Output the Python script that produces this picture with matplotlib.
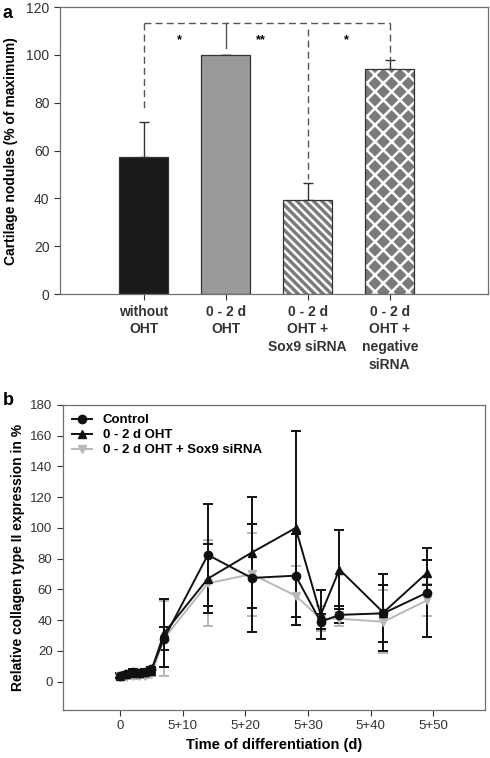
import numpy as np
import matplotlib.pyplot as plt
from matplotlib.lines import Line2D

plt.rcParams['font.family'] = ['Liberation Sans', 'DejaVu Sans']
plt.rcParams['hatch.linewidth'] = 1.8

# panel a data
groups = ['without\nOHT', '0 - 2 d\nOHT', '0 - 2 d\nOHT +\nSox9 siRNA', '0 - 2 d\nOHT +\nnegative\nsiRNA']
nodules = [57.3, 100.0, 39.5, 94.0]
nodules_err = [14.7, 0.0, 7.0, 4.0]

# panel b data
days = [0, 1, 2, 3, 4, 5, 7, 14, 21, 28, 32, 35, 42, 49]
day_ticks = [0, 10, 20, 30, 40, 50]
day_labels = ['0', '5+10', '5+20', '5+30', '5+40', '5+50']
control = [4, 5, 6.5, 6, 6.5, 8, 28, 82.5, 67.5, 69, 39, 43.5, 44.5, 58]
control_err = [1.5, 1.5, 1.5, 1.5, 1.5, 1.5, 7.4, 33, 35, 27, 5, 5.5, 18.5, 29]
oht = [4, 5, 6, 6, 6.5, 7, 31.5, 67, 84, 100, 43.5, 73, 45, 71]
oht_err = [1.5, 1.5, 1.5, 1.5, 1.5, 1.5, 22, 22.5, 36, 63, 16, 26, 25, 8]
sirna = [3.5, 3, 3.5, 4, 4, 5, 28, 64, 70, 56, 41, 41, 39, 53]
sirna_err = [1.5, 1.5, 1.5, 1.5, 1.5, 1.5, 24.5, 28, 27, 19, 8, 4.5, 20.5, 10.5]

fig = plt.figure(figsize=(4.9, 7.58), dpi=100)

# ---------------- panel a ----------------
ax1 = fig.add_axes([0.1224, 0.612, 0.874, 0.3786])
x = np.arange(len(groups))
fills = ['#1a1a1a', '#9a9a9a', '#7a7a7a', '#7a7a7a']
hatches = [None, None, '\\\\\\\\', 'xx']
for i in range(len(groups)):
    if hatches[i]:
        ax1.bar(x[i], nodules[i], 0.6, color=fills[i], edgecolor='white',
                hatch=hatches[i], linewidth=0, zorder=2)
        ax1.bar(x[i], nodules[i], 0.6, fill=False, edgecolor='#333333',
                linewidth=0.9, zorder=3)
    else:
        ax1.bar(x[i], nodules[i], 0.6, color=fills[i], edgecolor='#333333',
                linewidth=0.9, zorder=2)
ax1.errorbar(x, nodules, yerr=[np.zeros(4), nodules_err], fmt='none',
             ecolor='#333333', elinewidth=1, capsize=3.3, capthick=1, zorder=1)

# significance brackets
top = 113.5
dash = dict(color='#555555', lw=1, ls=(0, (5, 3)))
ax1.plot([x[0], x[3]], [top, top], **dash)
ax1.plot([x[0], x[0]], [top, 77], **dash)
ax1.plot([x[2], x[2]], [top - 2.5, 48], **dash)
ax1.plot([x[3], x[3]], [top, 98], **dash)
ax1.plot([x[1], x[1]], [top, 103], color='#555555', lw=1)
ax1.text(0.43, 106, '*', ha='center', va='center', fontsize=9, fontweight='bold')
ax1.text(1.43, 106, '**', ha='center', va='center', fontsize=9, fontweight='bold')
ax1.text(2.47, 106, '*', ha='center', va='center', fontsize=9, fontweight='bold')

ax1.set_xlim(-1.02, 4.2)
ax1.set_ylim(0, 120)
ax1.set_yticks(range(0, 121, 20))
ax1.set_xticks(x)
ax1.set_xticklabels(groups, fontweight='bold', fontsize=10, linespacing=1.35)
ax1.tick_params(axis='y', labelsize=10, direction='out', length=4, colors='#333333')
ax1.tick_params(axis='x', direction='out', length=4, colors='#333333')
for s in ax1.spines.values():
    s.set_color('#707070')
    s.set_linewidth(0.9)
ax1.set_ylabel('Cartilage nodules (% of maximum)', fontweight='bold', fontsize=10, labelpad=6)
fig.text(0.005, 0.982, 'a', fontweight='bold', fontsize=13, va='center')

# ---------------- panel b ----------------
ax2 = fig.add_axes([0.1286, 0.0633, 0.861, 0.4024])
series = [
    (sirna, sirna_err, '#b8b8b8', 'v', '0 - 2 d OHT + Sox9 siRNA'),
    (oht, oht_err, '#111111', '^', '0 - 2 d OHT'),
    (control, control_err, '#111111', 'o', 'Control'),
]
handles = {}
for vals, err, col, mk, lab in series:
    ax2.errorbar(days, vals, yerr=err, color=col, marker=mk, markersize=6,
                 lw=1.4, elinewidth=1.4, capsize=3.6, capthick=1.4)
    handles[lab] = Line2D([], [], color=col, marker=mk, markersize=6, lw=1.4)
order = ['Control', '0 - 2 d OHT', '0 - 2 d OHT + Sox9 siRNA']
ax2.legend([handles[k] for k in order], order, loc='upper left', frameon=False,
           prop={'weight': 'bold', 'size': 9.5}, handlelength=1.5, borderaxespad=0.3,
           labelspacing=0.2, handletextpad=0.8)

ax2.set_xlim(-9.1, 58.2)
ax2.set_ylim(-18.4, 180)
ax2.set_yticks(range(0, 181, 20))
ax2.set_xticks(day_ticks)
ax2.set_xticklabels(day_labels)
ax2.tick_params(labelsize=9.5, direction='out', length=4, colors='#333333')
for s in ax2.spines.values():
    s.set_color('#707070')
    s.set_linewidth(0.9)
ax2.set_xlabel('Time of differentiation (d)', fontweight='bold', fontsize=10.5)
ax2.set_ylabel('Relative collagen type II expression in %', fontweight='bold', fontsize=10)
fig.text(0.005, 0.472, 'b', fontweight='bold', fontsize=13, va='center')

fig.savefig('out.png', dpi=100)
